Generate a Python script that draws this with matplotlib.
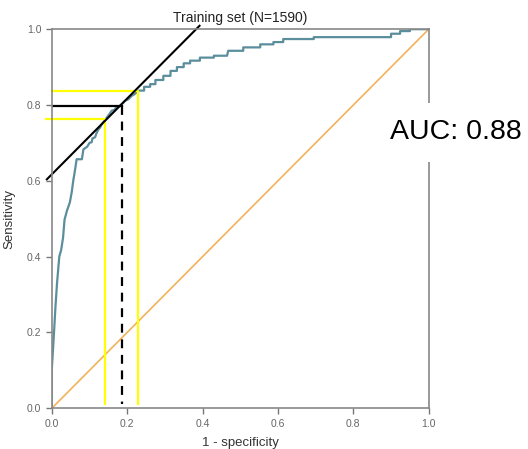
import matplotlib
matplotlib.use("Agg")
import matplotlib.pyplot as plt

plt.rcParams['font.family'] = ['Liberation Sans', 'DejaVu Sans']

# ROC curve
fpr = [0.0, 0.0, 0.003, 0.006, 0.010, 0.014, 0.020, 0.025, 0.030, 0.034, 0.040,
       0.048, 0.053, 0.057, 0.062, 0.066, 0.080, 0.084, 0.094, 0.100, 0.106,
       0.108, 0.115, 0.118, 0.124, 0.128, 0.133, 0.138, 0.146, 0.150, 0.159,
       0.166, 0.172, 0.181, 0.188, 0.194, 0.203, 0.212, 0.220, 0.230,
       0.245, 0.245, 0.261, 0.261, 0.275, 0.275, 0.296, 0.296, 0.315, 0.315,
       0.332, 0.332, 0.350, 0.350, 0.367, 0.367, 0.393, 0.393, 0.430, 0.430,
       0.465, 0.468, 0.508, 0.508, 0.553, 0.553, 0.588, 0.588, 0.614, 0.614,
       0.695, 0.695, 0.900, 0.900, 0.924, 0.924, 0.950, 0.950, 1.0]
tpr = [0.0, 0.10, 0.15, 0.20, 0.27, 0.33, 0.40, 0.418, 0.45, 0.498, 0.52,
       0.543, 0.57, 0.60, 0.63, 0.657, 0.657, 0.683, 0.690, 0.700, 0.702,
       0.712, 0.715, 0.724, 0.736, 0.740, 0.750, 0.756, 0.767, 0.772, 0.785,
       0.787, 0.795, 0.798, 0.804, 0.811, 0.815, 0.824, 0.829, 0.838,
       0.838, 0.848, 0.848, 0.855, 0.855, 0.866, 0.866, 0.877, 0.877, 0.890,
       0.890, 0.900, 0.900, 0.910, 0.910, 0.917, 0.917, 0.925, 0.925, 0.930,
       0.930, 0.943, 0.943, 0.952, 0.952, 0.960, 0.960, 0.966, 0.966, 0.974,
       0.974, 0.979, 0.979, 0.988, 0.988, 0.995, 0.995, 1.0, 1.0]

# cut-off point and its confidence limits
cut_fpr, cut_tpr = 0.186, 0.797
lo_fpr, lo_tpr = 0.142, 0.764
hi_fpr, hi_tpr = 0.228, 0.837
tangent_x = [-0.013, 0.392]
tangent_b = 0.617

fig = plt.figure(figsize=(5.28, 4.49), dpi=100)
ax = fig.add_axes([0.098, 0.0906, 0.714, 0.8444])

ax.plot([0, 1], [0, 1], color='#f3b25a', lw=1.2)
ax.plot(fpr, tpr, color='#5b8e9c', lw=1.6)

# yellow limits
ax.plot([0, hi_fpr, hi_fpr], [hi_tpr, hi_tpr, 0.011], color='#ffff00', lw=1.6, clip_on=False)
ax.plot([-0.016, lo_fpr, lo_fpr], [lo_tpr, lo_tpr, 0.011], color='#ffff00', lw=1.6, clip_on=False)

# black cut-off lines
ax.plot([0, cut_fpr], [cut_tpr, cut_tpr], color='black', lw=1.6)
ax.plot([cut_fpr, cut_fpr], [cut_tpr, 0.011], color='black', lw=1.6, dashes=(4, 3))
ax.plot(tangent_x, [x + tangent_b for x in tangent_x], color='black', lw=1.5, clip_on=False)

ax.set_xlim(0, 1)
ax.set_ylim(0, 1)
ticks = [0.0, 0.2, 0.4, 0.6, 0.8, 1.0]
ax.set_xticks(ticks)
ax.set_yticks(ticks)
ax.set_xticklabels(['%.1f' % t for t in ticks])
ax.set_yticklabels(['%.1f' % t for t in ticks])
ax.tick_params(direction='out', length=4, width=1, color='#777777',
               labelcolor='#666666', labelsize=7.5)
for s in ax.spines.values():
    s.set_color('#888888')
    s.set_linewidth(1.2)

ax.set_title('Training set (N=1590)', fontsize=10, color='#222222', pad=5)
ax.set_xlabel('1 - specificity', fontsize=9.5, color='#333333', labelpad=6)
ax.set_ylabel('Sensitivity', fontsize=9.5, color='#333333', labelpad=8)

ax.text(0.897, 0.728, 'AUC: 0.88', fontsize=20.5, va='center', ha='left',
        color='black', clip_on=False,
        bbox=dict(facecolor='white', edgecolor='none', pad=12))

fig.savefig('out.png', dpi=100, facecolor='white')
